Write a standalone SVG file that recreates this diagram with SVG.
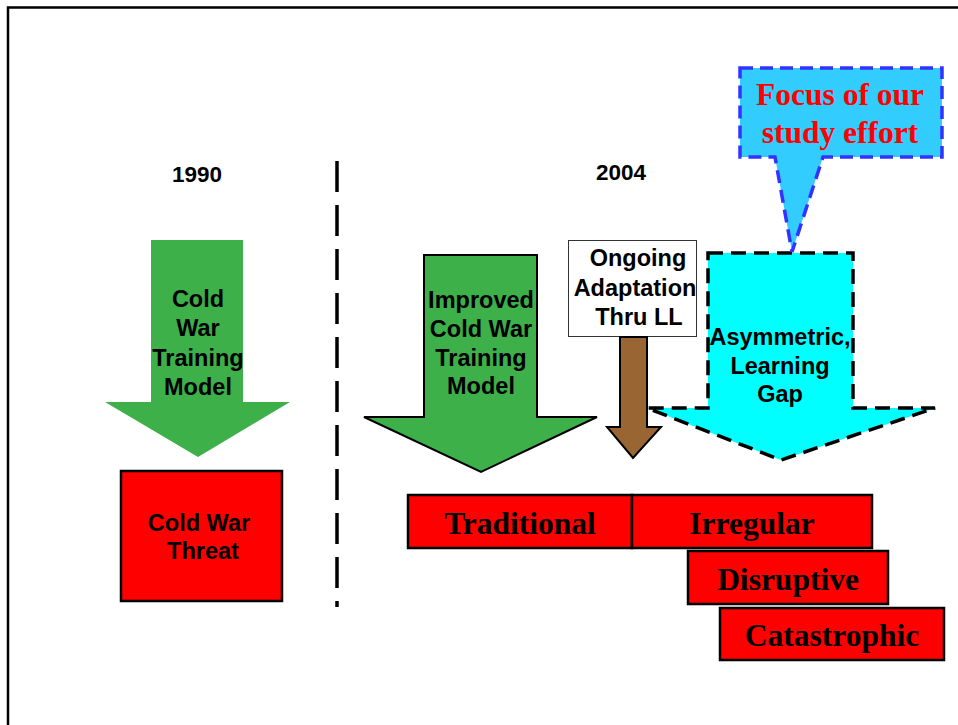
<svg xmlns="http://www.w3.org/2000/svg" width="958" height="725" viewBox="0 0 958 725">
<style>
.sans{font-family:"Liberation Sans",Arial,sans-serif;font-weight:bold;font-size:23.5px;fill:#000;text-anchor:middle}
.serif{font-family:"Liberation Serif","Times New Roman",serif;font-weight:bold;font-size:31.5px;fill:#000;text-anchor:middle}
.redbox{fill:#FF0000;stroke:#000;stroke-width:2.5}
</style>
<rect width="958" height="725" fill="#fff"/>
<path d="M8,725 V7.5 H958" fill="none" stroke="#000" stroke-width="2.5"/>
<g id="divider">
<line x1="337" y1="161" x2="337" y2="607" stroke="#000" stroke-width="3.5" stroke-dasharray="31 13"/>
</g>
<g id="year1990"><text class="sans" x="197" y="182" style="font-size:22.5px">1990</text></g>
<g id="year2004"><text class="sans" x="621" y="180" style="font-size:22.5px">2004</text></g>

<g id="arrow-coldwar-training">
<polygon points="151,240 243,240 243,402 290,402 198,457 105,402 151,402" fill="#3DB049"/>
<text class="sans" x="198" y="307">Cold</text>
<text class="sans" x="198" y="336">War</text>
<text class="sans" x="198" y="366">Training</text>
<text class="sans" x="198" y="395">Model</text>
</g>

<g id="coldwar-threat">
<rect class="redbox" x="121" y="471" width="161" height="130"/>
<text class="sans" x="199" y="531">Cold War</text>
<text class="sans" x="203" y="559">Threat</text>
</g>

<g id="arrow-improved">
<polygon points="424,255 537,255 537,417 597,417 481,472 364,417 424,417" fill="#3DB049" stroke="#000" stroke-width="2"/>
<text class="sans" x="481" y="308">Improved</text>
<text class="sans" x="481" y="337">Cold War</text>
<text class="sans" x="481" y="366">Training</text>
<text class="sans" x="481" y="394">Model</text>
</g>

<g id="arrow-asymmetric">
<polygon points="708,253 853,253 853,408 935,408 781,460 647,408 708,408" fill="#00FFFF" stroke="#000" stroke-width="3.5" stroke-dasharray="15 8"/>
<text class="sans" x="780" y="345">Asymmetric,</text>
<text class="sans" x="780" y="374">Learning</text>
<text class="sans" x="780" y="402">Gap</text>
</g>

<g id="ongoing-adaptation">
<rect x="568.5" y="240.5" width="128" height="96" fill="#fff" stroke="#333" stroke-width="1"/>
<text class="sans" x="638" y="266">Ongoing</text>
<text class="sans" x="635" y="296">Adaptation</text>
<text class="sans" x="639" y="325">Thru LL</text>
<polygon points="620,337 647,337 647,427 661,427 633,458 607,427 620,427" fill="#996633" stroke="#000" stroke-width="2"/>
</g>

<g id="focus-callout">
<path d="M740,68 H942 V157 H823 L792,252 L775,157 H740 Z" fill="#33CCFF" stroke="#3333FF" stroke-width="3.5" stroke-dasharray="13 7"/>
<text class="serif" x="840" y="105" style="fill:#FF0000;font-size:31.5px">Focus of our</text>
<text class="serif" x="840" y="143" style="fill:#FF0000;font-size:31.5px">study effort</text>
</g>

<g id="traditional">
<rect class="redbox" x="408" y="495" width="224" height="53"/>
<text class="serif" x="520" y="534">Traditional</text>
</g>
<g id="irregular">
<rect class="redbox" x="632" y="495" width="240" height="53"/>
<text class="serif" x="752" y="534">Irregular</text>
</g>
<g id="disruptive">
<rect class="redbox" x="688" y="551" width="200" height="53"/>
<text class="serif" x="788" y="590">Disruptive</text>
</g>
<g id="catastrophic">
<rect class="redbox" x="720" y="608" width="224" height="52"/>
<text class="serif" x="832" y="646">Catastrophic</text>
</g>
</svg>
